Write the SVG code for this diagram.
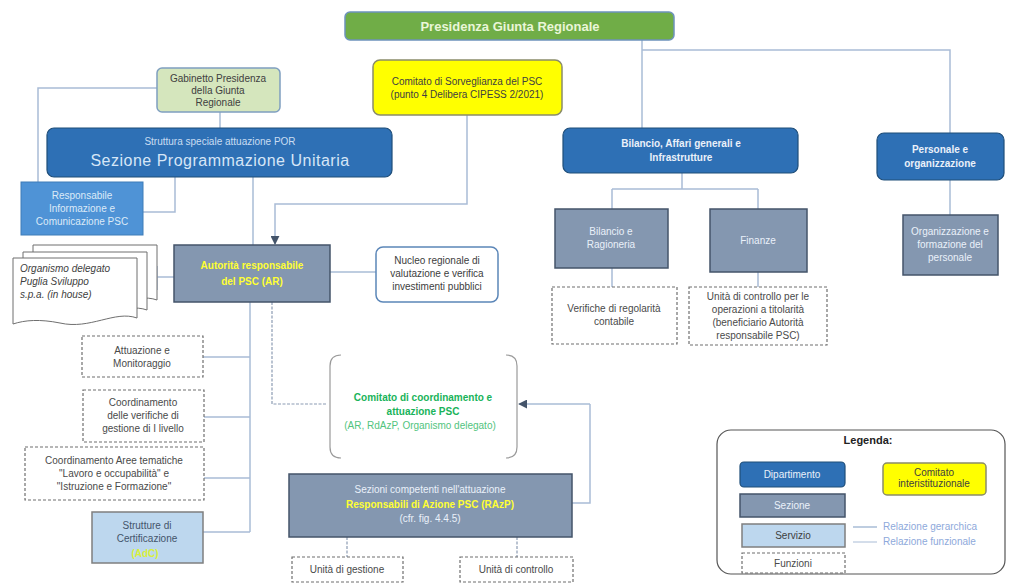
<svg xmlns="http://www.w3.org/2000/svg" width="1011" height="585" viewBox="0 0 1011 585">
  <defs>
    <marker id="arr" viewBox="0 0 10 10" refX="9" refY="5" markerWidth="6" markerHeight="6" orient="auto-start-reverse">
      <path d="M0,0 L10,5 L0,10 z" fill="#44546A"/>
    </marker>
  </defs>
  <style>
    text { font-family: "Liberation Sans", Arial, sans-serif; }
    .dip { fill: #2E70B5; stroke: #1F4E79; stroke-width: 1.2; }
    .sez { fill: #8497B0; stroke: #44546A; stroke-width: 1.5; }
    .ser { fill: #BDD7EE; stroke: #7F7F7F; stroke-width: 1.5; }
    .fun { fill: #FFFFFF; stroke: #6F6F6F; stroke-width: 1.2; stroke-dasharray: 3 2; }
    .com { fill: #FFFF00; stroke: #8A8C6A; stroke-width: 1.5; }
    .conn { fill: none; stroke: #A9BCD6; stroke-width: 1.5; }
    .fconn { fill: none; stroke: #8C9CB3; stroke-width: 1.2; stroke-dasharray: 3 1.5; }
    .t { font-size: 10px; text-anchor: middle; }
    .w { fill: #EAF1FA; }
    .d { fill: #404040; }
    .g { fill: #4A4A4A; }
    .b { font-weight: bold; }
  </style>

  <!-- connectors -->
  <g id="connectors">
    <!-- Presidenza to departments -->
    <path class="conn" d="M642,40 V128"/>
    <path class="conn" d="M642,50 H950 V133"/>
    <!-- Bilancio to its sections -->
    <path class="conn" d="M682,173 V189 M612,189 H758 M612,189 V209 M758,189 V209"/>
    <path class="conn" d="M612,268 V287 M758,272 V287"/>
    <!-- Personale to organisation -->
    <path class="conn" d="M950,180 V215"/>
    <!-- Gabinetto -->
    <path class="conn" d="M220,112 V128"/>
    <path class="conn" d="M157,88 H38 V182"/>
    <!-- Sezione Programmazione -->
    <path class="conn" d="M175,177 V212 H143"/>
    <path class="conn" d="M253,177 V245"/>
    <!-- Comitato di Sorveglianza to AR -->
    <path class="conn" d="M467,115 V204 H275 V244" marker-end="url(#arr)"/>
    <!-- AR side links -->
    <path class="conn" d="M157,277 H174 M157,266 V290"/>
    <path class="conn" d="M330,272 H376"/>
    <!-- AR to functions -->
    <path class="conn" d="M250,302 V532"/>
    <path class="conn" d="M203,357 H250 M204,417 H250 M204,478 H250 M203,532 H250"/>
    <!-- AR to Comitato di coordinamento -->
    <path class="fconn" d="M272,302 V404 H327"/>
    <path class="conn" d="M590,404 H519" marker-end="url(#arr)"/>
    <path class="conn" d="M590,404 V503 H572"/>
    <!-- RAzP to units -->
    <path class="fconn" d="M347,537 V557 M517,537 V557"/>
  </g>

  <!-- Presidenza Giunta Regionale -->
  <g id="presidenza">
    <rect x="345" y="12" width="329" height="28" rx="5" fill="#70AD47" stroke="#6E93BC" stroke-width="1.5"/>
    <text x="510" y="31" class="b" font-size="13" text-anchor="middle" fill="#EAF6D8">Presidenza Giunta Regionale</text>
  </g>

  <!-- Gabinetto -->
  <g id="gabinetto">
    <rect x="157" y="68" width="123" height="44" rx="5" fill="#D5E6BD" stroke="#7F9FC0" stroke-width="1.5"/>
    <text class="t d" x="218" y="82">Gabinetto Presidenza</text>
    <text class="t d" x="218" y="94">della Giunta</text>
    <text class="t d" x="218" y="106">Regionale</text>
  </g>

  <!-- Comitato di Sorveglianza -->
  <g id="comitato-sorveglianza">
    <rect x="373" y="60" width="189" height="55" rx="7" class="com"/>
    <text class="t d" x="467" y="85">Comitato di Sorveglianza del PSC</text>
    <text class="t d" x="467" y="98">(punto 4 Delibera CIPESS 2/2021)</text>
  </g>

  <!-- Sezione Programmazione Unitaria -->
  <g id="sezione-programmazione">
    <rect x="47" y="128" width="345" height="49" rx="7" class="dip"/>
    <text class="t" x="220" y="145" fill="#C9DDF2">Struttura speciale attuazione POR</text>
    <text x="220" y="166" font-size="16" text-anchor="middle" fill="#D6E6F7" letter-spacing="0.5">Sezione Programmazione Unitaria</text>
  </g>

  <!-- Responsabile Informazione -->
  <g id="responsabile-informazione">
    <rect x="21" y="182" width="122" height="53" fill="#4F93D6" stroke="#3F7CB8" stroke-width="1"/>
    <text class="t" x="82" y="199" fill="#DCEAF8">Responsabile</text>
    <text class="t" x="82" y="212" fill="#DCEAF8">Informazione e</text>
    <text class="t" x="82" y="225" fill="#DCEAF8">Comunicazione PSC</text>
  </g>

  <!-- Bilancio, Affari generali e Infrastrutture -->
  <g id="bilancio-dip">
    <rect x="563" y="128" width="235" height="45" rx="7" class="dip"/>
    <text class="t b w" x="681" y="147" font-size="10.5">Bilancio, Affari generali e</text>
    <text class="t b w" x="681" y="161" font-size="10.5">Infrastrutture</text>
  </g>

  <!-- Personale e organizzazione -->
  <g id="personale">
    <rect x="877" y="133" width="127" height="47" rx="7" class="dip"/>
    <text class="t b w" x="940" y="153" font-size="10.5">Personale e</text>
    <text class="t b w" x="940" y="167" font-size="10.5">organizzazione</text>
  </g>

  <!-- Bilancio e Ragioneria -->
  <g id="bilancio-ragioneria">
    <rect x="555" y="209" width="113" height="59" class="sez"/>
    <text class="t w" x="611" y="235">Bilancio e</text>
    <text class="t w" x="611" y="248">Ragioneria</text>
  </g>

  <!-- Finanze -->
  <g id="finanze">
    <rect x="710" y="209" width="97" height="63" class="sez"/>
    <text class="t w" x="758" y="244">Finanze</text>
  </g>

  <!-- Organizzazione e formazione del personale -->
  <g id="organizzazione">
    <rect x="903" y="215" width="95" height="60" class="sez"/>
    <text class="t w" x="950" y="235">Organizzazione e</text>
    <text class="t w" x="950" y="248">formazione del</text>
    <text class="t w" x="950" y="261">personale</text>
  </g>

  <!-- Verifiche di regolarità contabile -->
  <g id="verifiche">
    <rect x="552" y="287" width="125" height="57" class="fun"/>
    <text class="t g" x="614" y="312">Verifiche di regolarità</text>
    <text class="t g" x="614" y="325">contabile</text>
  </g>

  <!-- Unità di controllo operazioni a titolarità -->
  <g id="unita-controllo-finanze">
    <rect x="689" y="287" width="138" height="58" class="fun"/>
    <text class="t g" x="758" y="300">Unità di controllo per le</text>
    <text class="t g" x="758" y="313">operazioni a titolarità</text>
    <text class="t g" x="758" y="326">(beneficiario Autorità</text>
    <text class="t g" x="758" y="339">responsabile PSC)</text>
  </g>

  <!-- Organismo delegato -->
  <g id="organismo-delegato">
    <path d="M33,245 H157 V300 C135,292 110,312 80,305 C60,301 45,302 33,306 Z" fill="#FFFFFF" stroke="#6F6F6F" stroke-width="1"/>
    <path d="M23,252 H147 V310 C125,302 100,322 70,315 C50,311 35,312 23,316 Z" fill="#FFFFFF" stroke="#6F6F6F" stroke-width="1"/>
    <path d="M13,258 H137 V318 C115,310 90,330 60,323 C40,319 25,320 13,324 Z" fill="#FFFFFF" stroke="#6F6F6F" stroke-width="1"/>
    <text x="20" y="272" font-size="10" font-style="italic" fill="#404040">Organismo delegato</text>
    <text x="20" y="285" font-size="10" font-style="italic" fill="#404040">Puglia Sviluppo</text>
    <text x="20" y="298" font-size="10" font-style="italic" fill="#404040">s.p.a. (in house)</text>
  </g>

  <!-- Autorità responsabile del PSC -->
  <g id="autorita-responsabile">
    <rect x="174" y="245" width="156" height="57" class="sez"/>
    <text class="t b" x="252" y="269" font-size="12" fill="#FFFF33">Autorità responsabile</text>
    <text class="t b" x="252" y="285" font-size="12" fill="#FFFF33">del PSC (AR)</text>
  </g>

  <!-- Nucleo regionale -->
  <g id="nucleo">
    <rect x="376" y="247" width="122" height="55" rx="7" fill="#FFFFFF" stroke="#5B86B8" stroke-width="1.5"/>
    <text class="t d" x="437" y="264">Nucleo regionale di</text>
    <text class="t d" x="437" y="277">valutazione e verifica</text>
    <text class="t d" x="437" y="290">investimenti pubblici</text>
  </g>

  <!-- Attuazione e Monitoraggio -->
  <g id="attuazione">
    <rect x="82" y="336" width="121" height="41" class="fun"/>
    <text class="t g" x="142" y="354">Attuazione e</text>
    <text class="t g" x="142" y="367">Monitoraggio</text>
  </g>

  <!-- Coordinamento delle verifiche -->
  <g id="coordinamento-verifiche">
    <rect x="83" y="390" width="121" height="52" class="fun"/>
    <text class="t g" x="143" y="406">Coordinamento</text>
    <text class="t g" x="143" y="419">delle verifiche di</text>
    <text class="t g" x="143" y="432">gestione di I livello</text>
  </g>

  <!-- Coordinamento Aree tematiche -->
  <g id="coordinamento-aree">
    <rect x="25" y="447" width="179" height="53" class="fun"/>
    <text class="t g" x="114" y="464">Coordinamento Aree tematiche</text>
    <text class="t g" x="114" y="477">"Lavoro e occupabilità" e</text>
    <text class="t g" x="114" y="490">"Istruzione e Formazione"</text>
  </g>

  <!-- Strutture di Certificazione -->
  <g id="strutture-certificazione">
    <rect x="92" y="512" width="111" height="51" class="ser"/>
    <text class="t" x="147" y="529" fill="#44546A">Strutture di</text>
    <text class="t" x="147" y="542" fill="#44546A">Certificazione</text>
    <text class="t b" x="145" y="557" font-size="8" fill="#D9F03A">(AdC)</text>
  </g>

  <!-- Comitato di coordinamento e attuazione PSC -->
  <g id="comitato-coordinamento">
    <path d="M341,355 Q330,355 330,366 V447 Q330,458 341,458" fill="none" stroke="#9A9A9A" stroke-width="1.2"/>
    <path d="M506,355 Q517,355 517,366 V447 Q517,458 506,458" fill="none" stroke="#9A9A9A" stroke-width="1.2"/>
    <text class="t b" x="423" y="401" font-size="10.5" fill="#19B35A">Comitato di coordinamento e</text>
    <text class="t b" x="423" y="415" font-size="10.5" fill="#19B35A">attuazione PSC</text>
    <text class="t" x="420" y="429" font-size="10.5" fill="#52C47E">(AR, RdAzP, Organismo delegato)</text>
  </g>

  <!-- Responsabili di Azione PSC -->
  <g id="responsabili-azione">
    <rect x="289" y="474" width="283" height="63" class="sez"/>
    <text class="t w" x="430" y="493">Sezioni competenti nell'attuazione</text>
    <text class="t b" x="430" y="508" font-size="11.5" fill="#FFFF33">Responsabili di Azione PSC (RAzP)</text>
    <text class="t w" x="430" y="522">(cfr. fig. 4.4.5)</text>
  </g>

  <!-- Unità di gestione -->
  <g id="unita-gestione">
    <rect x="292" y="557" width="111" height="25" class="fun"/>
    <text class="t g" x="347" y="573">Unità di gestione</text>
  </g>

  <!-- Unità di controllo -->
  <g id="unita-controllo">
    <rect x="460" y="557" width="113" height="25" class="fun"/>
    <text class="t g" x="516" y="573">Unità di controllo</text>
  </g>

  <!-- Legend -->
  <g id="legenda">
    <rect x="717" y="430" width="288" height="144" rx="14" fill="#FFFFFF" stroke="#555555" stroke-width="1.2"/>
    <text x="868" y="444" font-size="11" font-weight="bold" text-anchor="middle" fill="#222222">Legenda:</text>
    <rect x="740" y="462" width="105" height="25" rx="4" class="dip"/>
    <text class="t w" x="792" y="478" font-size="9">Dipartimento</text>
    <rect x="740" y="494" width="105" height="23" class="sez"/>
    <text class="t w" x="792" y="509" font-size="9">Sezione</text>
    <rect x="742" y="524" width="103" height="23" class="ser"/>
    <text class="t" x="793" y="539" font-size="9" fill="#404040">Servizio</text>
    <rect x="742" y="553" width="103" height="20" class="fun"/>
    <text class="t g" x="793" y="567" font-size="9">Funzioni</text>
    <rect x="883" y="463" width="103" height="32" rx="4" class="com"/>
    <text class="t d" x="934" y="476" font-size="8.5">Comitato</text>
    <text class="t d" x="934" y="487" font-size="8.5">interistituzionale</text>
    <path d="M853,527 H877" stroke="#A9BCD6" stroke-width="1.5"/>
    <path d="M853,542 H877" stroke="#A9BCD6" stroke-width="1"/>
    <text x="883" y="530" font-family="Liberation Serif, serif" font-size="10" fill="#8EA9DB">Relazione gerarchica</text>
    <text x="883" y="545" font-family="Liberation Serif, serif" font-size="10" fill="#8EA9DB">Relazione funzionale</text>
  </g>
</svg>
